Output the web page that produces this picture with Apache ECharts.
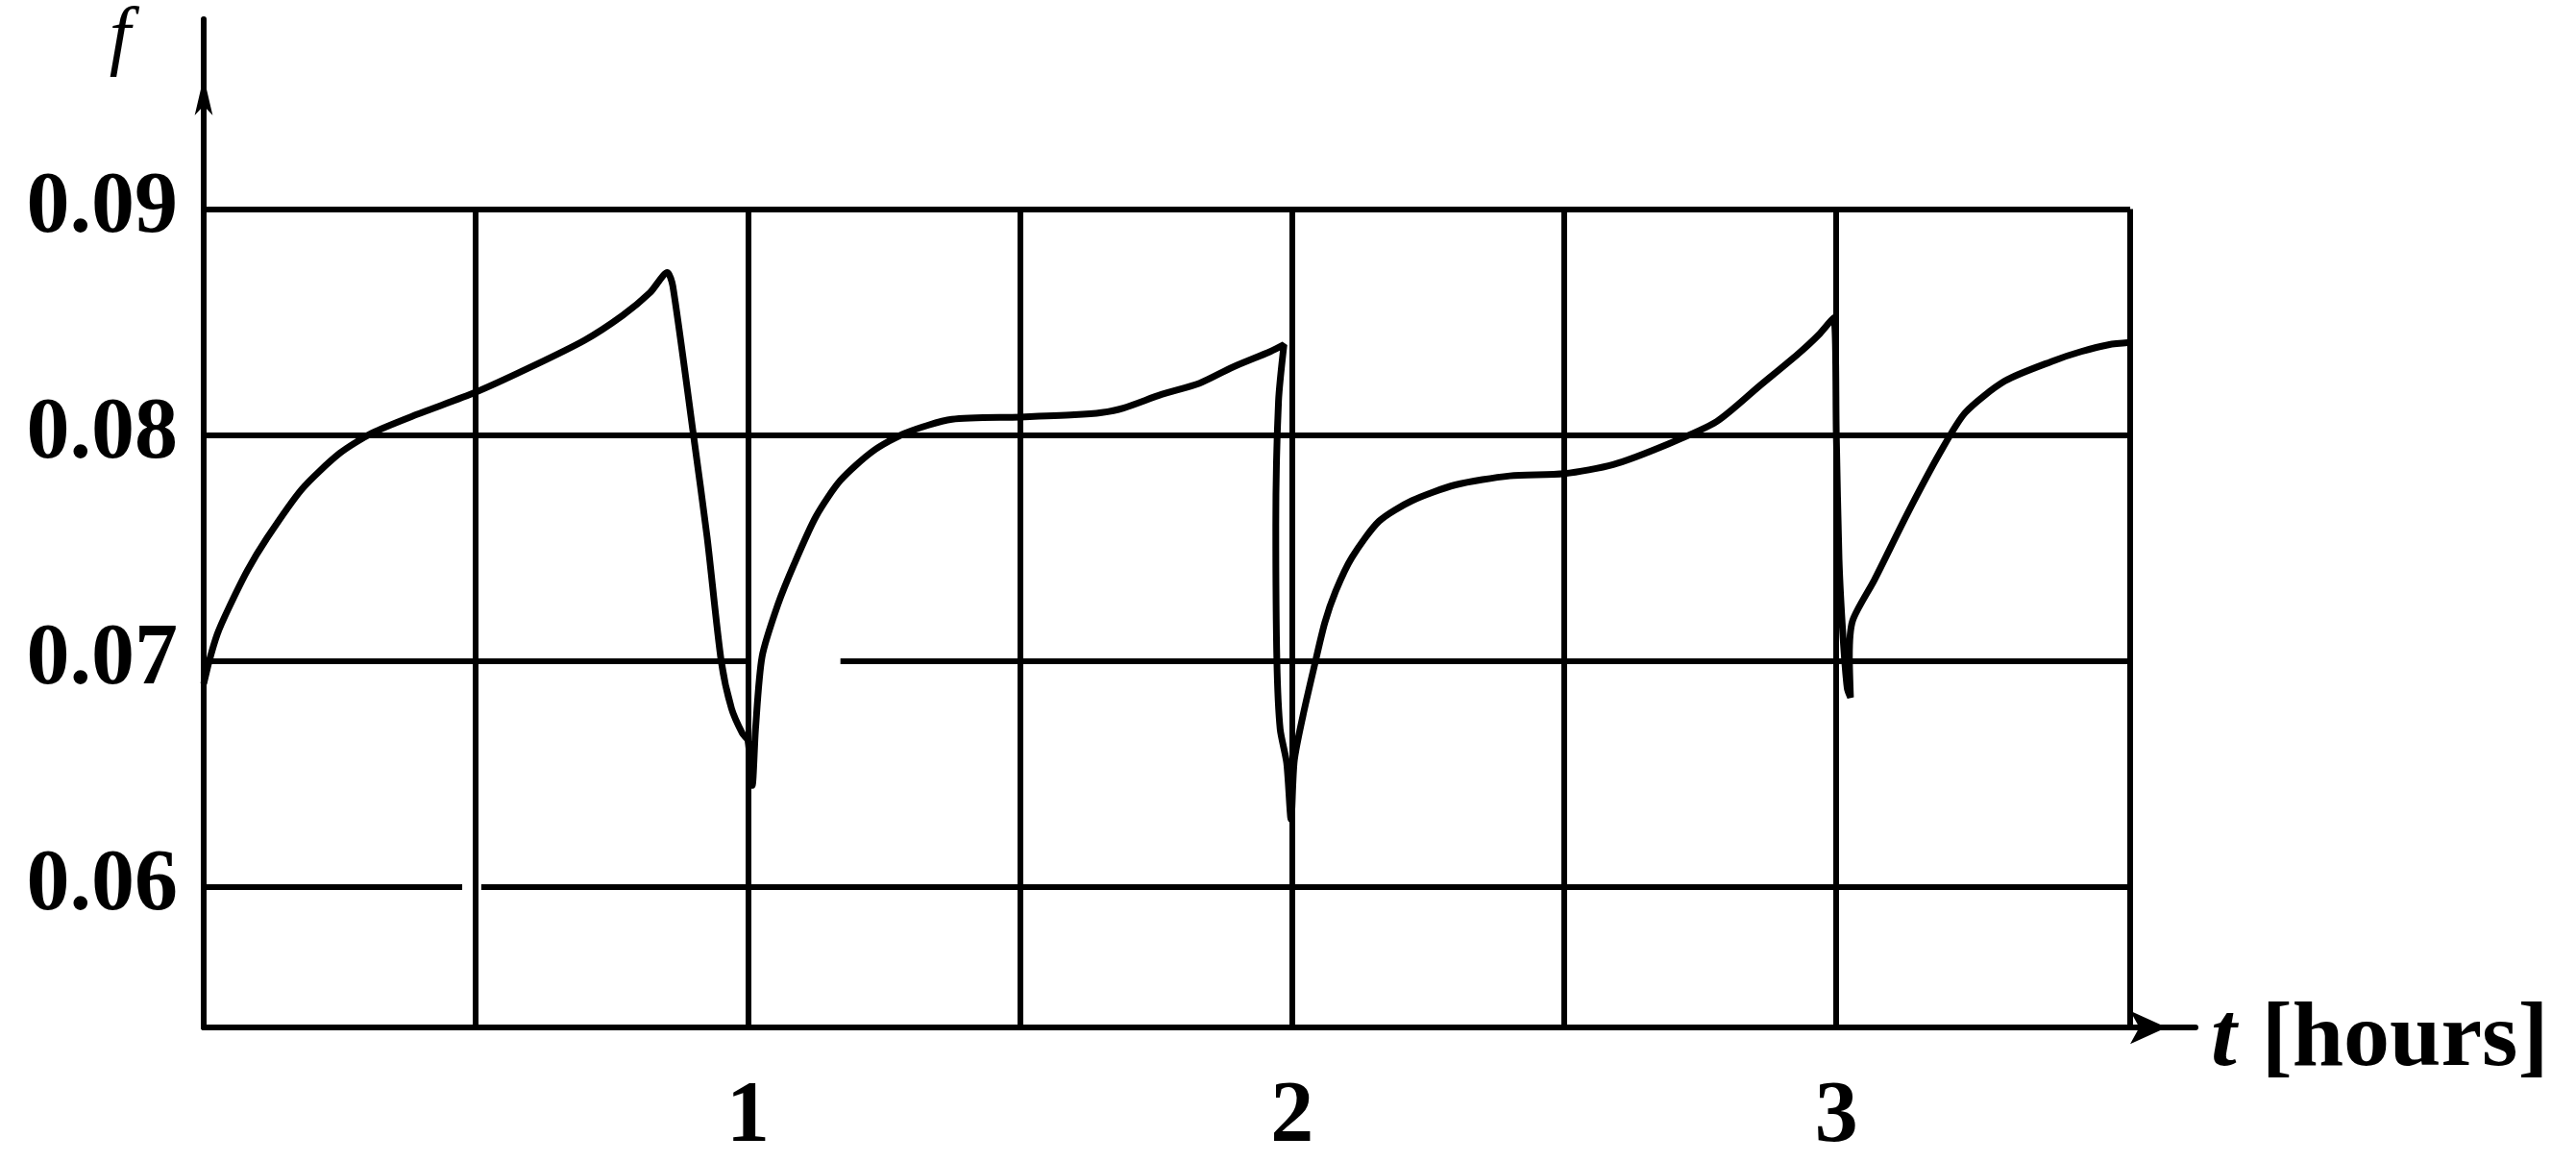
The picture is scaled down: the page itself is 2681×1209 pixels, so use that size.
<!DOCTYPE html>
<html>
<head>
<meta charset="utf-8">
<title>f(t)</title>
<script src="https://cdn.jsdelivr.net/npm/echarts@6/dist/echarts.min.js"></script>
<style>
  html, body { margin: 0; padding: 0; background: #fff; }
  #chart { width: 2681px; height: 1209px; }
</style>
</head>
<body>
<div id="chart"></div>
<script>
// curve: time in hours, f value
var hours = [
  0, 0.01, 0.025, 0.045, 0.08, 0.115, 0.18, 0.25, 0.31, 0.39, 0.5, 0.6, 0.7, 0.77, 0.82, 0.852,
  0.862, 0.9, 0.925, 0.951, 0.97, 0.99, 1.0, 1.008, 1.014, 1.026, 1.055, 1.085, 1.125, 1.17,
  1.23, 1.29, 1.375, 1.5, 1.6, 1.65, 1.69, 1.76, 1.83, 1.89, 1.96, 1.985,
  1.975, 1.97, 1.972, 1.978, 1.99, 1.998, 2.004, 2.02, 2.04, 2.06, 2.08, 2.11, 2.16, 2.22,
  2.3, 2.4, 2.5, 2.59, 2.69, 2.78, 2.86, 2.93, 2.97, 2.995,
  3.0, 3.005, 3.012, 3.02, 3.026, 3.024, 3.03, 3.07, 3.13, 3.19, 3.237, 3.31, 3.4, 3.45, 3.5, 3.54
];
var fValues = [
  0.0690, 0.0700, 0.0712, 0.0723, 0.0740, 0.0754, 0.0776, 0.0792, 0.0801, 0.0809, 0.0819, 0.0830, 0.0842, 0.0853, 0.0863, 0.0872,
  0.0866, 0.0800, 0.0755, 0.0700, 0.0679, 0.0668, 0.0665, 0.0645, 0.0670, 0.0702, 0.0725, 0.0743, 0.0764, 0.0780,
  0.0793, 0.0801, 0.0807, 0.0808, 0.0809, 0.0810, 0.0812, 0.0818, 0.0823, 0.0830, 0.0837, 0.0840,
  0.0815, 0.0760, 0.0700, 0.0670, 0.0655, 0.0630, 0.0656, 0.0676, 0.0697, 0.0717, 0.0731, 0.0746, 0.0762, 0.0771,
  0.0778, 0.0782, 0.0783, 0.0787, 0.0796, 0.0806, 0.0822, 0.0836, 0.0845, 0.0852,
  0.0800, 0.0745, 0.0712, 0.0688, 0.0684, 0.0702, 0.0718, 0.0736, 0.0765, 0.0792, 0.0810, 0.0824, 0.0833, 0.0837, 0.0840, 0.0841
];

// grid of the paper plot
var hourLines = [0.5, 1, 1.5, 2, 2.5, 3];
var frameRight = 3.54;
var levelLines = [0.06, 0.07, 0.08, 0.09];
var levelGaps = [[0.06, 0.475, 0.51], [0.07, 1.0, 1.17]]; // [level, from, to]
var xTicks = [1, 2, 3];
var yTicks = [0.06, 0.07, 0.08, 0.09];

var xMin = 0, xMax = 3.66;
var yMin = 0.0538, yMax = 0.0984;
var yTop = 0.09;

function buildGridSegments() {
  var segs = [];
  hourLines.concat([frameRight]).forEach(function (t) {
    segs.push({ coords: [[t, yMin], [t, yTop]] });
  });
  levelLines.forEach(function (lv) {
    var start = 0;
    levelGaps.forEach(function (g) {
      if (g[0] === lv) {
        segs.push({ coords: [[start, lv], [g[1], lv]] });
        start = g[2];
      }
    });
    segs.push({ coords: [[start, lv], [frameRight, lv]] });
  });
  return segs;
}

var serif = 'Liberation Serif';

function RenderChart() {
  var dom = document.getElementById('chart');
  var myChart = echarts.init(dom);
  var curve = hours.map(function (t, i) { return [t, fValues[i]]; });

  var option = {
    backgroundColor: '#fff',
    animation: false,
    grid: { left: 212, right: 396, top: 20, bottom: 127 },
    xAxis: {
      type: 'value',
      min: xMin,
      max: xMax,
      name: '{t|t}{h|[hours]}',
      nameLocation: 'end',
      nameGap: 16,
      nameTextStyle: {
        verticalAlign: 'middle',
        align: 'left',
        padding: [28, 0, 0, 0],
        rich: {
          t: { fontFamily: serif, fontStyle: 'italic', fontWeight: 'bold', fontSize: 96, color: '#000', padding: [0, 26, 0, 0] },
          h: { fontFamily: serif, fontWeight: 'bold', fontSize: 96, color: '#000' }
        }
      },
      axisLine: {
        show: true,
        onZero: false,
        symbol: ['none', 'arrow'],
        symbolSize: [26, 38],
        symbolOffset: [0, -30],
        lineStyle: { color: '#000', width: 6 }
      },
      axisTick: { show: false },
      splitLine: { show: false },
      axisLabel: {
        customValues: xTicks,
        formatter: function (v) { return String(v); },
        margin: 50,
        fontFamily: serif,
        fontWeight: 'bold',
        fontSize: 90,
        color: '#000'
      }
    },
    yAxis: {
      type: 'value',
      min: yMin,
      max: yMax,
      name: 'f',
      nameLocation: 'end',
      nameGap: -22,
      nameTextStyle: {
        fontFamily: serif,
        fontStyle: 'italic',
        fontSize: 80,
        color: '#000',
        align: 'right',
        verticalAlign: 'middle',
        padding: [0, 76, 0, 0]
      },
      axisLine: {
        show: true,
        onZero: false,
        symbol: ['none', 'arrow'],
        symbolSize: [14, 40],
        symbolOffset: [0, -60],
        lineStyle: { color: '#000', width: 6 }
      },
      axisTick: { show: false },
      splitLine: { show: false },
      axisLabel: {
        customValues: yTicks,
        formatter: function (v) { return v.toFixed(2); },
        margin: 27,
        fontFamily: serif,
        fontWeight: 'bold',
        fontSize: 90,
        color: '#000'
      }
    },
    series: [
      {
        name: 'grid',
        type: 'lines',
        coordinateSystem: 'cartesian2d',
        silent: true,
        lineStyle: { color: '#000', width: 6, opacity: 1 },
        data: buildGridSegments()
      },
      {
        name: 'f',
        type: 'line',
        data: curve,
        showSymbol: false,
        smooth: 0.25,
        lineStyle: { color: '#000', width: 7 },
        z: 3
      }
    ]
  };

  myChart.setOption(option);
}

window.onload = RenderChart;
</script>
</body>
</html>
